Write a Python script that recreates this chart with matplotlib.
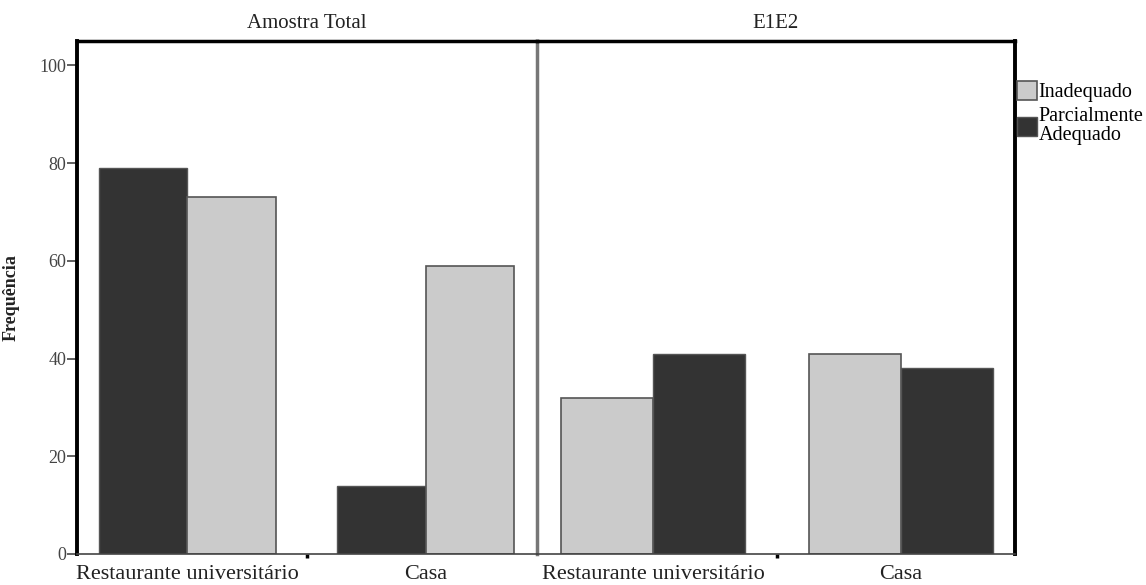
import numpy as np
import matplotlib.pyplot as plt

plt.rcParams['font.family'] = ['Liberation Serif', 'DejaVu Serif']

categorias = ["Restaurante universitário", "Casa"]
paineis = ["Amostra Total", "E1E2"]
inadequado_total = [73, 59]
parcial_total = [79, 14]
inadequado_e1e2 = [32, 41]
parcial_e1e2 = [41, 38]
legenda = ["Inadequado", "Parcialmente\nAdequado"]
yticks = [0, 20, 40, 60, 80, 100]

cor_clara = "#cbcbcb"
cor_escura = "#333333"

fig = plt.figure(figsize=(11.46, 5.85), dpi=100)
ax1 = fig.add_axes([0.0675, 0.053, 0.401, 0.877])
ax2 = fig.add_axes([0.4685, 0.053, 0.417, 0.877])
ax2.patch.set_alpha(0)

x = np.arange(len(categorias))
w = 0.372

# painel esquerdo: escuro primeiro, depois claro
b_esc = ax1.bar(x - w / 2, parcial_total, w, color=cor_escura, edgecolor="#555555", linewidth=1)
b_cla = ax1.bar(x + w / 2, inadequado_total, w, color=cor_clara, edgecolor="#555555", linewidth=1.2)
# painel direito: claro primeiro
ax2.bar(x - w / 2, inadequado_e1e2, w, color=cor_clara, edgecolor="#555555", linewidth=1.2)
ax2.bar(x + w / 2, parcial_e1e2, w, color=cor_escura, edgecolor="#555555", linewidth=1)

ax1.set_xlim(-0.462, 1.466)
ax2.set_xlim(-0.468, 1.46)

for ax, titulo in zip([ax1, ax2], paineis):
    ax.set_ylim(0, 105)
    ax.set_title(titulo, fontsize=15, color="#222222", pad=9)
    ax.set_xticks(x)
    ax.set_xticklabels(categorias, fontsize=16, color="#222222")
    ax.tick_params(axis="x", length=0, pad=8)
    ax.set_xticks([0.5], minor=True)
    ax.tick_params(axis="x", which="minor", length=3, width=2.5, color="black")
    ax.spines["top"].set_linewidth(2.5)
    ax.spines["top"].set_color("black")
    ax.spines["bottom"].set_linewidth(1.2)
    ax.spines["bottom"].set_color("#444444")

ax1.spines["left"].set_linewidth(2.8)
ax1.spines["left"].set_color("black")
ax1.spines["right"].set_linewidth(2.5)
ax1.spines["right"].set_color("#777777")
ax2.spines["left"].set_visible(False)
ax2.spines["right"].set_linewidth(2.8)
ax2.spines["right"].set_color("black")

ax1.set_yticks(yticks)
ax1.set_yticklabels([str(v) for v in yticks], fontsize=13, color="#444444")
ax1.tick_params(axis="y", length=7, width=1.2, color="#444444", pad=1)
ax2.set_yticks([])
ax1.set_ylabel("Frequência", fontsize=13, fontweight="bold", color="#222222")
ax1.yaxis.set_label_coords(-0.125, 0.5)

leg = fig.legend([b_cla, b_esc], legenda, loc="upper left", bbox_to_anchor=(0.887, 0.862),
                 frameon=False, fontsize=14.5, handlelength=1.0, handleheight=1.1,
                 handletextpad=0.1, labelspacing=0.25, borderaxespad=0, borderpad=0)
leg.get_texts()[1].set_linespacing(1.0)

fig.savefig("out.png", dpi=100)
